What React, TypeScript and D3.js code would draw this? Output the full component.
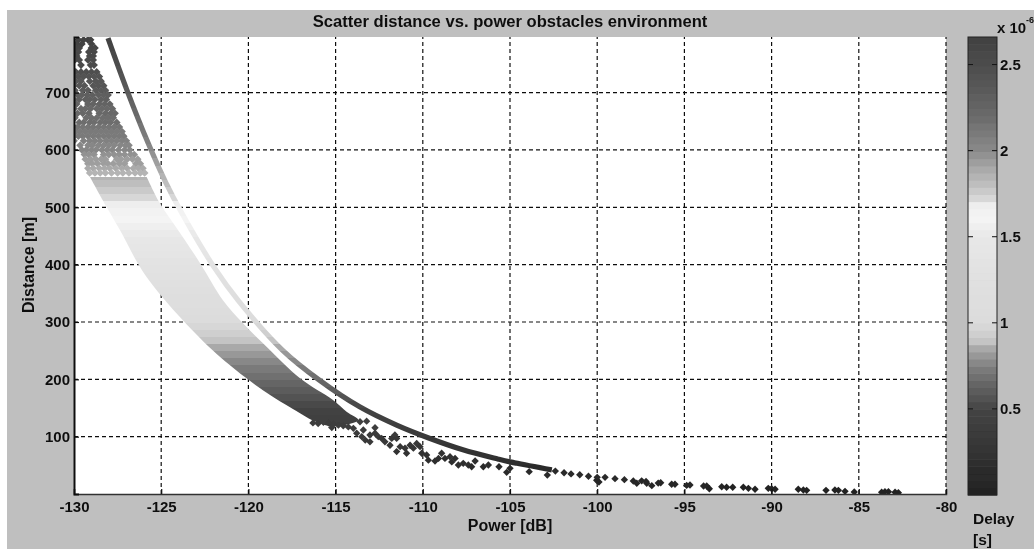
// App.tsx
import React, { useEffect, useRef } from 'react';
import * as d3 from 'd3';

const powerTicks = [-130, -125, -120, -115, -110, -105, -100, -95, -90, -85, -80];
const distanceTicks = [100, 200, 300, 400, 500, 600, 700];
const delayTicks = [0.5, 1, 1.5, 2, 2.5];

// direct path curve, [power dB, distance m]
const directCurve: [number, number][] = [
  [-128.05, 795], [-126.96, 704], [-125.75, 612], [-124.75, 544], [-123.82, 490], [-121.98, 396],
  [-120.6, 338], [-118.05, 251], [-115.95, 199], [-113.62, 152], [-111.5, 120], [-109.7, 98],
  [-107.7, 77], [-105.7, 61], [-105, 56], [-102.6, 42],
];

// dense part of the cloud
const bandLower: [number, number][] = [
  [-129.08, 553], [-128.12, 500], [-127.36, 460], [-125.83, 378], [-122.78, 272], [-120.88, 220],
  [-118.93, 176], [-117.04, 141], [-116.07, 125], [-115.15, 118],
];
const bandUpper: [number, number][] = [
  [-125.83, 553], [-125.07, 507], [-123.92, 455], [-122.78, 403], [-121.46, 338], [-120.31, 298],
  [-118.93, 256], [-117.04, 202], [-115.15, 164], [-114.35, 143], [-113.7, 129],
];

// sparse top of the cloud, one row per distance
const cloudRowDistances = [
  792, 785, 778, 771, 764, 757, 748, 736, 728, 720, 712, 704, 696, 688, 680, 672, 664, 656, 648,
  640, 632, 624, 616, 608, 600, 592, 584, 576, 568, 560,
];
const cloudRowPowers: number[][] = [
  [-129.75, -129.45, -129.2, -129.05],
  [-129.85, -129.55, -129.0],
  [-129.9, -129.7, -129.0, -128.8],
  [-129.95, -129.75, -129.15, -128.85],
  [-129.85, -129.1, -128.9],
  [-129.95, -129.7, -129.2, -128.9],
  [-129.6, -129.05, -128.85],
  [-129.9, -129.6, -129.3, -129.0, -128.7],
  [-130, -129.75, -129.45, -129.15, -128.85, -128.55],
  [-129.9, -129.6, -129.1, -128.75, -128.45],
  [-130, -129.7, -129.4, -128.9, -128.6, -128.3],
  [-129.95, -129.5, -129.2, -128.75, -128.45, -128.2],
  [-129.8, -129.55, -129.25, -128.95, -128.6, -128.3, -128.05],
  [-130, -129.7, -129.35, -129.1, -128.8, -128.45, -128.15],
  [-129.85, -129.2, -128.9, -128.55, -128.25, -127.95],
  [-130, -129.6, -129.35, -129.05, -128.7, -128.4, -128.1, -127.8],
  [-129.8, -129.5, -129.15, -128.55, -128.2, -127.9, -127.65],
  [-129.95, -129.3, -129.0, -128.7, -128.35, -128.05, -127.75],
  [-129.7, -129.45, -129.1, -128.85, -128.5, -128.2, -127.9, -127.55],
  [-130, -129.8, -129.5, -129.2, -128.9, -128.6, -128.3, -128, -127.7, -127.4],
  [-129.9, -129.65, -129.35, -129.05, -128.75, -128.45, -128.15, -127.85, -127.55, -127.25],
  [-130, -129.75, -129.5, -129.2, -128.9, -128.6, -128.3, -128, -127.7, -127.4, -127.15],
  [-130, -129.45, -129.1, -128.8, -128.5, -128.15, -127.85, -127.55, -127.25, -127],
  [-129.65, -129.2, -128.95, -128.6, -128.3, -128, -127.7, -127.35, -127.05, -126.85],
  [-129.55, -129.3, -129.0, -128.75, -128.4, -128.1, -127.8, -127.45, -127.1, -126.8],
  [-129.4, -129.15, -128.85, -128.3, -128, -127.7, -127.4, -127.1, -126.75, -126.55],
  [-129.35, -129.05, -128.75, -128.45, -128.2, -127.55, -127.3, -126.95, -126.65, -126.35],
  [-129.2, -128.95, -128.65, -128.3, -128.05, -127.75, -127.4, -127.1, -126.45, -126.2],
  [-129.2, -128.9, -128.55, -128.25, -127.95, -127.6, -127.25, -126.95, -126.6, -126.3, -126.05],
  [-129.1, -128.8, -128.5, -128.2, -127.85, -127.5, -127.2, -126.85, -126.5, -126.2, -125.95],
];

// loose points under the curve and along the tail
const tailPoints: [number, number][] = [
  [-116.3, 124], [-116, 123], [-115.7, 125], [-115.4, 124], [-115.1, 122], [-114.8, 126], [-115.22, 116],
  [-114.84, 120], [-114.56, 119], [-114.27, 117], [-113.98, 114.5], [-113.6, 126], [-113.22, 127],
  [-113.41, 111.6], [-113.79, 106], [-113.5, 100], [-113.3, 94], [-113.03, 91], [-112.74, 115.6],
  [-112.74, 106], [-113.03, 103], [-112.55, 100], [-112.36, 97], [-112.17, 91], [-111.88, 85],
  [-111.5, 97], [-111.6, 103], [-111.78, 97], [-111.5, 74], [-111.3, 82.5], [-111.02, 80],
  [-110.73, 85], [-110.54, 80], [-110.35, 88], [-110.16, 82.5], [-110.93, 71], [-110.06, 71],
  [-109.78, 68], [-109.68, 59], [-109.3, 57.5], [-109.1, 62], [-108.92, 71], [-108.73, 62],
  [-108.44, 65], [-108.34, 56], [-108.15, 62], [-107.96, 50.6], [-107.68, 53.5], [-107.39, 50.6],
  [-107.2, 47.6], [-107, 57.5], [-106.53, 47.6], [-106.24, 50.6], [-105.63, 47.6], [-105, 44.8],
  [-105.19, 37.8], [-103.9, 38.9], [-102.86, 33], [-102.4, 40], [-101.9, 37], [-101.5, 35],
  [-101, 33.5], [-100.5, 31], [-100.03, 24], [-100, 29], [-99.9, 21], [-99.55, 29], [-98.98, 26.7],
  [-98.44, 25], [-97.93, 22.7], [-97.73, 18.7], [-97.45, 23], [-97.16, 18.7], [-97.2, 22],
  [-96.87, 14.5], [-96.5, 19], [-96.36, 19.7], [-95.73, 17], [-95.54, 17], [-94.87, 15], [-94.68, 15.7],
  [-93.9, 14], [-93.72, 14], [-93.57, 9.2], [-92.86, 12.7], [-92.58, 11.7], [-92.23, 11.7],
  [-91.62, 11.7], [-91.33, 9.9], [-90.95, 8.2], [-90.19, 9.9], [-90, 9.2], [-89.8, 8.2], [-88.47, 8.2],
  [-88.18, 7], [-87.99, 6.4], [-86.88, 6.4], [-86.37, 7], [-86.17, 6.4], [-85.79, 4.7], [-85.26, 3.5],
  [-83.69, 3], [-83.5, 4], [-83.3, 4], [-82.92, 3], [-82.73, 2.3],
];

// colormap (delay in microseconds, grey level)
const colorDelays = [0, 0.25, 0.5, 0.65, 0.75, 0.85, 0.9, 1, 1.25, 1.5, 1.6, 1.68, 1.72, 1.8, 1.9, 2, 2.2, 2.4, 2.66];
const colorGreys = [0x22, 0x33, 0x44, 0x66, 0x80, 0xa8, 0xc8, 0xdc, 0xe0, 0xe8, 0xf4, 0xf0, 0xd8, 0xc0, 0xa8, 0x8a, 0x6a, 0x55, 0x40];

const WIDTH = 1034;
const HEIGHT = 549;
const LEVELS = 64;
const MAX_DISTANCE = 797;
const MAX_DELAY = 2.66;
const FONT = '"Liberation Sans", Arial, sans-serif';

const x = d3.scaleLinear().domain([-130, -80]).range([74, 946]);
const y = d3.scaleLinear().domain([0, MAX_DISTANCE]).range([494, 37]);
const delayY = d3.scaleLinear().domain([0, MAX_DELAY]).range([495, 37]);

const greyScale = d3.scaleLinear<number>().domain(colorDelays).range(colorGreys);
const delayColor = (delay: number) => {
  const level = Math.min(LEVELS - 1, Math.floor((delay / MAX_DELAY) * LEVELS));
  const g = Math.round(greyScale(((level + 0.5) / LEVELS) * MAX_DELAY));
  return `rgb(${g},${g},${g})`;
};
const distanceColor = (distance: number) => delayColor((distance / MAX_DISTANCE) * MAX_DELAY);

const App: React.FC = () => {
  const svgRef = useRef<SVGSVGElement | null>(null);

  useEffect(() => {
    const root = d3.select(svgRef.current);
    root.selectAll('*').remove();

    const defs = root.append('defs');
    // the reference is a slightly soft scan
    defs.append('filter').attr('id', 'soft').attr('x', 0).attr('y', 0).attr('width', 1).attr('height', 1)
      .append('feGaussianBlur').attr('stdDeviation', 0.45);
    defs.append('clipPath').attr('id', 'plot').append('rect')
      .attr('x', x(-130)).attr('y', y(MAX_DISTANCE)).attr('width', x(-80) - x(-130)).attr('height', y(0) - y(MAX_DISTANCE));

    // stepped gradient, same levels as the colorbar
    const grad = defs.append('linearGradient').attr('id', 'delayGrad').attr('gradientUnits', 'userSpaceOnUse')
      .attr('x1', 0).attr('x2', 0).attr('y1', y(0)).attr('y2', y(MAX_DISTANCE));
    d3.range(LEVELS).forEach((i) => {
      const c = delayColor(((i + 0.5) / LEVELS) * MAX_DELAY);
      grad.append('stop').attr('offset', i / LEVELS).attr('stop-color', c);
      grad.append('stop').attr('offset', (i + 1) / LEVELS).attr('stop-color', c);
    });

    const svg = root.append('g').attr('filter', 'url(#soft)');

    svg.append('rect').attr('x', 7).attr('y', 10).attr('width', WIDTH - 7).attr('height', HEIGHT - 10).attr('fill', '#bfbfbf');
    svg.append('rect').attr('x', x(-130)).attr('y', y(MAX_DISTANCE)).attr('width', x(-80) - x(-130)).attr('height', y(0) - y(MAX_DISTANCE)).attr('fill', '#fff');

    // grid
    const grid = svg.append('g').attr('stroke', '#111').attr('stroke-width', 1.2).attr('stroke-dasharray', '4,3');
    powerTicks.slice(1).forEach((p) => {
      grid.append('line').attr('x1', x(p)).attr('x2', x(p)).attr('y1', y(0)).attr('y2', y(MAX_DISTANCE));
    });
    distanceTicks.forEach((d) => {
      grid.append('line').attr('x1', x(-130)).attr('x2', x(-80)).attr('y1', y(d)).attr('y2', y(d));
    });

    // marks
    const plot = svg.append('g').attr('clip-path', 'url(#plot)');
    const line = d3.line<[number, number]>().x((d) => x(d[0])).y((d) => y(d[1])).curve(d3.curveCatmullRom);

    plot.append('path')
      .attr('d', line(bandLower.concat([...bandUpper].reverse())))
      .attr('fill', 'url(#delayGrad)');

    const cloudMark = d3.symbol().type(d3.symbolSquare).size(30)();
    const tailMark = d3.symbol().type(d3.symbolSquare).size(27)();
    const cloud: [number, number][] = cloudRowPowers.flatMap((row, i) =>
      row.map((p) => [p, cloudRowDistances[i]] as [number, number])
    );
    plot.selectAll('path.cloud')
      .data(cloud)
      .join('path')
      .attr('class', 'cloud')
      .attr('d', cloudMark)
      .attr('transform', (d) => `translate(${x(d[0])},${y(d[1])}) rotate(45)`)
      .attr('fill', (d) => distanceColor(d[1]));
    plot.selectAll('path.tail')
      .data(tailPoints)
      .join('path')
      .attr('class', 'tail')
      .attr('d', tailMark)
      .attr('transform', (d) => `translate(${x(d[0])},${y(d[1])}) rotate(45)`)
      .attr('fill', (d) => distanceColor(d[1]));

    plot.append('path')
      .attr('d', line(directCurve))
      .attr('fill', 'none')
      .attr('stroke', 'url(#delayGrad)')
      .attr('stroke-width', 5.2);

    // axes
    const styleAxis = (g: d3.Selection<SVGGElement, unknown, null, undefined>) => {
      g.attr('font-family', FONT).attr('font-size', 15).attr('font-weight', 'bold');
      g.selectAll('text').attr('fill', '#111');
      g.selectAll('line').attr('stroke', '#111').attr('stroke-width', 1.2);
    };
    const xAxis = d3.axisBottom(x).tickValues(powerTicks).tickSize(-5).tickPadding(7).tickFormat((d) => String(d));
    svg.append('g').attr('transform', `translate(0,${y(0)})`).call(xAxis).call(styleAxis)
      .select('.domain').attr('stroke', '#333').attr('stroke-width', 1.5);

    const yAxis = d3.axisLeft(y).tickValues(distanceTicks).tickSize(-5).tickPadding(4).tickFormat((d) => String(d));
    svg.append('g').attr('transform', `translate(${x(-130)},0)`).call(yAxis).call(styleAxis)
      .select('.domain').attr('stroke', '#111').attr('stroke-width', 2);

    // colorbar
    svg.append('g').selectAll('rect')
      .data(d3.range(LEVELS))
      .join('rect')
      .attr('x', 968)
      .attr('width', 29)
      .attr('y', (i) => delayY(((i + 1) / LEVELS) * MAX_DELAY))
      .attr('height', (i) => delayY((i / LEVELS) * MAX_DELAY) - delayY(((i + 1) / LEVELS) * MAX_DELAY) + 0.5)
      .attr('fill', (i) => delayColor(((i + 0.5) / LEVELS) * MAX_DELAY));
    svg.append('rect').attr('x', 968).attr('y', 37).attr('width', 29).attr('height', 458)
      .attr('fill', 'none').attr('stroke', '#222');

    const barAxis = d3.axisRight(delayY).tickValues(delayTicks).tickSize(0).tickPadding(3).tickFormat((d) => String(d));
    const barG = svg.append('g').attr('transform', 'translate(997,0)').call(barAxis).call(styleAxis);
    barG.select('.domain').remove();
    delayTicks.forEach((t) => {
      svg.append('line').attr('x1', 968).attr('x2', 973).attr('y1', delayY(t)).attr('y2', delayY(t)).attr('stroke', '#111');
      svg.append('line').attr('x1', 992).attr('x2', 997).attr('y1', delayY(t)).attr('y2', delayY(t)).attr('stroke', '#111');
    });

    // labels
    const label = (text: string, px: number, py: number, size: number, anchor = 'middle') =>
      svg.append('text').attr('x', px).attr('y', py).attr('font-family', FONT).attr('font-size', size)
        .attr('font-weight', 'bold').attr('text-anchor', anchor).attr('fill', '#111').text(text);

    label('Scatter distance vs. power obstacles environment', 510, 27, 16.6);
    label('Power [dB]', 510, 531, 16);
    label('Distance [m]', 0, 0, 16).attr('transform', 'translate(34,265) rotate(-90)');
    label('x 10', 997, 33, 15, 'start');
    label('-6', 1026, 23, 9, 'start');
    label('Delay', 973, 524, 15.5, 'start');
    label('[s]', 973, 545, 15.5, 'start');
  }, []);

  return (
    <svg
      ref={svgRef}
      width={WIDTH}
      height={HEIGHT}
      style={{ position: 'absolute', left: 0, top: 0 }}
    />
  );
};

export default App;
